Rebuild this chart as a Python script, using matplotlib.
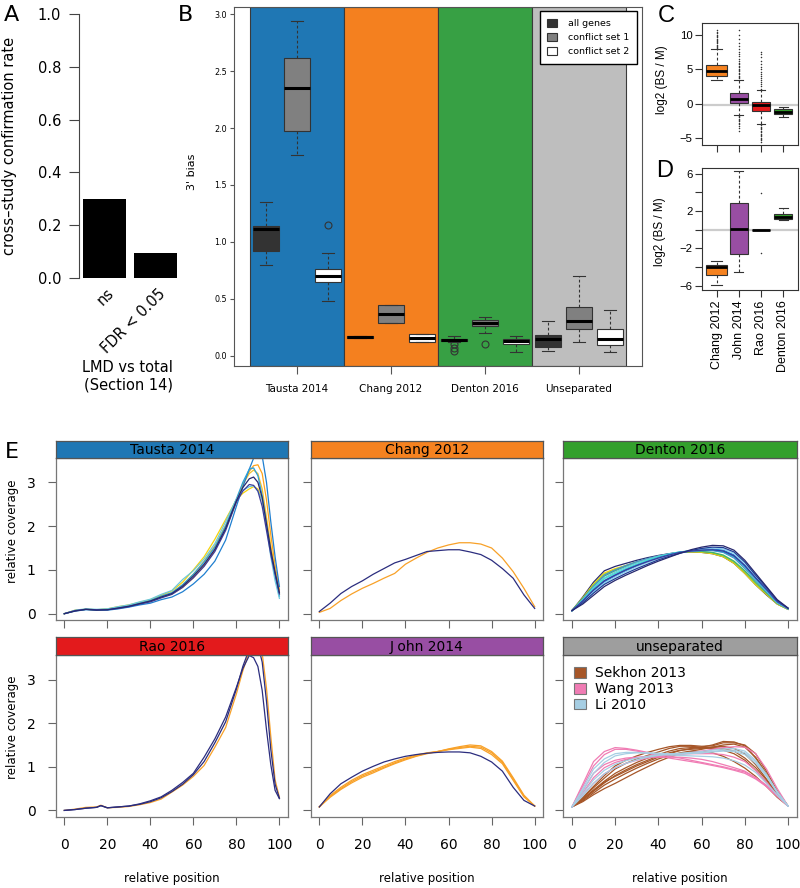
import numpy as np
import matplotlib
matplotlib.use('Agg')
import matplotlib.pyplot as plt
from matplotlib.patches import Patch

# ---------------- data ----------------
# A: cross-study confirmation rate
a_labels = ['ns', 'FDR < 0.05']
a_rates = [0.30, 0.093]

# B: 3' bias boxes, (q1, median, q3, whisker low, whisker high) per group
b_groups = ['Tausta 2014', 'Chang 2012', 'Denton 2016', 'Unseparated']
b_group_colors = ['#1f77b4', '#f4801f', '#37a044', '#bebebe']
b_all = [(0.92, 1.11, 1.14, 0.80, 1.35), (0.158, 0.165, 0.172, 0.158, 0.172),
         (0.126, 0.137, 0.146, 0.117, 0.17), (0.073, 0.146, 0.179, 0.041, 0.308)]
b_all_out = [[], [], [0.10, 0.07, 0.04], []]
b_c1 = [(1.97, 2.35, 2.62, 1.76, 2.94), (0.287, 0.363, 0.442, 0.287, 0.442),
        (0.26, 0.29, 0.313, 0.202, 0.343), (0.231, 0.305, 0.425, 0.123, 0.703)]
b_c1_out = [[], [], [0.105], []]
b_c2 = [(0.643, 0.696, 0.76, 0.48, 0.904), (0.117, 0.152, 0.187, 0.117, 0.187),
        (0.10, 0.126, 0.146, 0.035, 0.176), (0.094, 0.146, 0.231, 0.032, 0.404)]
b_c2_out = [[1.15], [], [], []]
b_sets = ['all genes', 'conflict set 1', 'conflict set 2']
b_set_colors = ['#333333', '#808080', 'white']

# C / D: log2 (BS / M)
cd_studies = ['Chang 2012', 'John 2014', 'Rao 2016', 'Denton 2016']
cd_colors = ['#f58220', '#984ea3', '#e41a1c', '#33a02c']
c_stats = [(4.1, 4.83, 5.62, 3.47, 7.96), (0.15, 0.73, 1.61, -1.65, 3.47),
           (-1.02, -0.24, 0.29, -2.97, 2.0), (-1.46, -1.22, -0.78, -1.95, -0.44)]
c_out = [[8.1, 8.3, 8.5, 8.6, 8.8, 9.0, 9.2, 9.3, 9.5, 9.7, 9.9, 10.1, 10.3, 10.5, 10.8],
         [3.7, 3.9, 4.1, 4.3, 4.5, 4.7, 4.9, 5.1, 5.3, 5.5, 5.8, 6.0, 6.3, 6.6, 6.9, 7.2, 7.6,
          8.0, 8.4, 8.9, 9.4, 10.0, 10.8,
          -1.8, -2.0, -2.2, -2.4, -2.6, -2.8, -3.0, -3.3, -3.6, -4.0],
         [2.2, 2.5, 2.8, 3.1, 3.4, 3.7, 4.0, 4.3, 4.6, 5.0, 5.4, 5.8, 6.3, 6.8, 7.3, 7.6,
          -3.2, -3.4, -3.6, -3.8, -4.0, -4.2, -4.4, -4.6, -4.8, -5.0, -5.2, -5.4, -5.6],
         []]
c_ref = -0.25
d_stats = [(-4.89, -4.03, -3.78, -5.93, -3.36), (-2.57, 0.05, 2.83, -4.53, 6.26),
           (0.0, 0.0, 0.0, 0.0, 0.0), (1.11, 1.39, 1.68, 1.0, 2.36)]
d_out = [[], [], [3.97, -2.53], []]
d_ref = 0.0

# E: relative coverage curves
tx = [0, 5, 10, 15, 20, 25, 30, 35, 40, 45, 50, 55, 60, 65, 70, 75, 80, 83, 86, 88, 90, 92, 94, 96, 98, 100]
tausta_curves = [
    ('#f5d20a', [0.0, 0.08, 0.1, 0.09, 0.11, 0.16, 0.2, 0.26, 0.32, 0.42, 0.52, 0.72, 1.0, 1.3, 1.7, 2.15, 2.6, 2.75, 2.85, 2.9, 2.85, 2.6, 2.1, 1.5, 0.95, 0.45]),
    ('#ffa31a', [0.0, 0.07, 0.1, 0.09, 0.09, 0.13, 0.17, 0.22, 0.28, 0.37, 0.45, 0.6, 0.82, 1.1, 1.45, 1.93, 2.55, 2.95, 3.25, 3.38, 3.4, 3.2, 2.6, 1.8, 1.1, 0.55]),
    ('#f2c12e', [0.0, 0.07, 0.1, 0.09, 0.1, 0.14, 0.18, 0.24, 0.3, 0.4, 0.48, 0.66, 0.9, 1.2, 1.55, 2.02, 2.6, 2.95, 3.2, 3.28, 3.2, 2.85, 2.2, 1.55, 1.0, 0.5]),
    ('#1f7fd0', [0.0, 0.06, 0.09, 0.08, 0.08, 0.11, 0.15, 0.2, 0.24, 0.32, 0.38, 0.5, 0.68, 0.9, 1.2, 1.68, 2.45, 2.9, 3.3, 3.55, 3.7, 3.6, 3.0, 2.1, 1.3, 0.62]),
    ('#2aa0d8', [0.0, 0.07, 0.1, 0.09, 0.1, 0.14, 0.18, 0.24, 0.3, 0.4, 0.48, 0.66, 0.9, 1.18, 1.52, 2.0, 2.62, 3.0, 3.3, 3.33, 3.15, 2.7, 2.05, 1.4, 0.85, 0.4]),
    ('#6cc8dc', [0.0, 0.08, 0.11, 0.1, 0.11, 0.16, 0.2, 0.27, 0.33, 0.44, 0.53, 0.78, 0.98, 1.25, 1.6, 2.1, 2.62, 2.82, 2.9, 2.92, 2.8, 2.6, 2.0, 1.3, 0.75, 0.35]),
    ('#3b3b9c', [0.0, 0.07, 0.1, 0.09, 0.09, 0.12, 0.16, 0.22, 0.27, 0.36, 0.44, 0.6, 0.82, 1.08, 1.42, 1.9, 2.55, 2.8, 2.95, 2.93, 2.8, 2.45, 1.9, 1.35, 0.9, 0.45]),
    ('#26286e', [0.0, 0.06, 0.1, 0.08, 0.09, 0.13, 0.17, 0.23, 0.29, 0.38, 0.46, 0.63, 0.86, 1.13, 1.47, 1.95, 2.58, 2.88, 3.08, 3.12, 3.0, 2.65, 2.05, 1.45, 0.95, 0.48]),
]

rx = [0, 5, 10, 15, 17, 20, 25, 30, 35, 40, 45, 50, 55, 60, 65, 70, 75, 80, 83, 86, 88, 90, 92, 94, 96, 98, 100]
rao_curves = [
    ('#f8a128', [0.0, 0.03, 0.07, 0.08, 0.12, 0.06, 0.07, 0.09, 0.13, 0.18, 0.26, 0.42, 0.58, 0.78, 1.03, 1.45, 1.9, 2.67, 3.2, 3.65, 3.86, 3.85, 3.6, 2.8, 1.7, 0.7, 0.3]),
    ('#2b2d7e', [0.0, 0.02, 0.05, 0.07, 0.11, 0.06, 0.08, 0.1, 0.14, 0.2, 0.29, 0.43, 0.6, 0.82, 1.12, 1.55, 2.03, 2.78, 3.3, 3.7, 3.85, 3.8, 3.4, 2.5, 1.4, 0.6, 0.28]),
    ('#2b2d7e', [0.0, 0.02, 0.05, 0.07, 0.11, 0.06, 0.08, 0.1, 0.15, 0.22, 0.31, 0.46, 0.64, 0.85, 1.22, 1.64, 2.14, 2.82, 3.25, 3.55, 3.5, 3.3, 2.75, 1.85, 1.05, 0.46, 0.27]),
]

fx = [0, 5, 10, 15, 20, 25, 30, 35, 40, 45, 50, 55, 60, 65, 70, 75, 80, 85, 90, 95, 100]
chang_curves = [
    ('#f8a128', [0.03, 0.12, 0.3, 0.45, 0.58, 0.69, 0.81, 0.92, 1.13, 1.27, 1.4, 1.5, 1.57, 1.62, 1.62, 1.59, 1.5, 1.27, 0.96, 0.58, 0.16]),
    ('#2b2d7e', [0.05, 0.24, 0.46, 0.62, 0.75, 0.9, 1.03, 1.16, 1.24, 1.33, 1.42, 1.44, 1.46, 1.46, 1.41, 1.35, 1.22, 1.03, 0.81, 0.43, 0.12]),
]
john_curves = [
    ('#f8a128', [0.08, 0.34, 0.53, 0.69, 0.82, 0.92, 1.02, 1.12, 1.2, 1.27, 1.32, 1.35, 1.39, 1.42, 1.45, 1.42, 1.28, 1.07, 0.69, 0.31, 0.1]),
    ('#f8a128', [0.08, 0.32, 0.5, 0.66, 0.79, 0.89, 0.99, 1.09, 1.18, 1.25, 1.31, 1.35, 1.4, 1.44, 1.47, 1.45, 1.32, 1.1, 0.72, 0.33, 0.1]),
    ('#f8a128', [0.08, 0.3, 0.48, 0.63, 0.76, 0.86, 0.97, 1.07, 1.16, 1.24, 1.3, 1.35, 1.41, 1.46, 1.5, 1.48, 1.35, 1.13, 0.75, 0.35, 0.1]),
    ('#2b2d7e', [0.08, 0.38, 0.61, 0.76, 0.9, 1.01, 1.11, 1.18, 1.24, 1.28, 1.31, 1.33, 1.34, 1.34, 1.32, 1.24, 1.11, 0.9, 0.53, 0.23, 0.1]),
]
denton_curves = [
    ('#26286e', [0.07, 0.38, 0.72, 0.98, 1.08, 1.15, 1.22, 1.28, 1.33, 1.37, 1.4, 1.41, 1.4, 1.37, 1.3, 1.15, 0.92, 0.66, 0.43, 0.22, 0.1]),
    ('#f5d20a', [0.07, 0.36, 0.68, 0.93, 1.03, 1.1, 1.18, 1.25, 1.31, 1.36, 1.4, 1.41, 1.4, 1.37, 1.3, 1.15, 0.92, 0.66, 0.44, 0.22, 0.1]),
    ('#9acd32', [0.07, 0.35, 0.66, 0.9, 1.01, 1.1, 1.18, 1.25, 1.31, 1.36, 1.4, 1.42, 1.42, 1.39, 1.32, 1.18, 0.95, 0.69, 0.46, 0.23, 0.1]),
    ('#3cb371', [0.07, 0.34, 0.62, 0.86, 0.98, 1.08, 1.17, 1.25, 1.31, 1.36, 1.4, 1.42, 1.42, 1.4, 1.34, 1.2, 0.98, 0.72, 0.48, 0.24, 0.11]),
    ('#4a90c8', [0.07, 0.33, 0.63, 0.88, 1.0, 1.1, 1.19, 1.26, 1.32, 1.37, 1.41, 1.43, 1.44, 1.44, 1.4, 1.27, 1.03, 0.76, 0.5, 0.25, 0.11]),
    ('#6cc8dc', [0.07, 0.32, 0.6, 0.82, 0.95, 1.06, 1.16, 1.24, 1.31, 1.36, 1.41, 1.43, 1.45, 1.46, 1.42, 1.3, 1.06, 0.78, 0.52, 0.25, 0.11]),
    ('#40e0d0', [0.07, 0.31, 0.58, 0.8, 0.92, 1.03, 1.13, 1.22, 1.3, 1.36, 1.41, 1.44, 1.46, 1.47, 1.44, 1.33, 1.09, 0.81, 0.54, 0.27, 0.12]),
    ('#2aa0d8', [0.07, 0.3, 0.55, 0.76, 0.89, 1.01, 1.11, 1.2, 1.28, 1.35, 1.4, 1.43, 1.45, 1.45, 1.41, 1.3, 1.07, 0.8, 0.54, 0.27, 0.12]),
    ('#1f7fd0', [0.07, 0.28, 0.52, 0.73, 0.86, 0.98, 1.09, 1.18, 1.27, 1.34, 1.4, 1.44, 1.47, 1.48, 1.45, 1.34, 1.1, 0.82, 0.55, 0.27, 0.12]),
    ('#8fd3f0', [0.07, 0.26, 0.5, 0.7, 0.84, 0.96, 1.07, 1.17, 1.26, 1.33, 1.39, 1.44, 1.48, 1.5, 1.48, 1.38, 1.15, 0.86, 0.58, 0.29, 0.12]),
    ('#1e3c96', [0.07, 0.25, 0.47, 0.67, 0.8, 0.92, 1.03, 1.13, 1.23, 1.31, 1.38, 1.44, 1.49, 1.52, 1.51, 1.41, 1.18, 0.88, 0.6, 0.3, 0.12]),
    ('#3b3b9c', [0.07, 0.29, 0.54, 0.75, 0.88, 1.0, 1.1, 1.19, 1.27, 1.34, 1.4, 1.43, 1.45, 1.46, 1.43, 1.32, 1.1, 0.82, 0.56, 0.28, 0.12]),
    ('#26286e', [0.07, 0.22, 0.42, 0.62, 0.76, 0.88, 0.99, 1.1, 1.2, 1.29, 1.38, 1.46, 1.52, 1.56, 1.55, 1.45, 1.22, 0.92, 0.62, 0.32, 0.13]),
]
unsep_names = ['Sekhon 2013', 'Wang 2013', 'Li 2010']
unsep_colors = ['#a65628', '#f07cb4', '#a6cee3']
sekhon_curves = [
    [0.08, 0.3, 0.55, 0.8, 1.02, 1.15, 1.25, 1.33, 1.4, 1.46, 1.49, 1.49, 1.47, 1.48, 1.55, 1.55, 1.5, 1.3, 0.9, 0.45, 0.1],
    [0.08, 0.22, 0.4, 0.58, 0.72, 0.85, 0.97, 1.08, 1.18, 1.26, 1.32, 1.36, 1.4, 1.45, 1.5, 1.52, 1.45, 1.22, 0.85, 0.42, 0.1],
    [0.08, 0.26, 0.47, 0.67, 0.85, 0.98, 1.1, 1.2, 1.28, 1.36, 1.42, 1.44, 1.44, 1.42, 1.38, 1.3, 1.15, 0.92, 0.65, 0.35, 0.1],
    [0.08, 0.2, 0.36, 0.5, 0.62, 0.75, 0.88, 1.0, 1.12, 1.22, 1.3, 1.35, 1.35, 1.32, 1.24, 1.12, 0.97, 0.78, 0.55, 0.3, 0.1],
    [0.08, 0.28, 0.52, 0.74, 0.95, 1.08, 1.18, 1.26, 1.34, 1.42, 1.47, 1.47, 1.45, 1.5, 1.58, 1.57, 1.48, 1.2, 0.82, 0.4, 0.1],
    [0.08, 0.24, 0.44, 0.63, 0.8, 0.93, 1.05, 1.15, 1.25, 1.32, 1.38, 1.4, 1.42, 1.45, 1.47, 1.42, 1.3, 1.05, 0.72, 0.38, 0.1],
    [0.08, 0.25, 0.45, 0.65, 0.78, 0.9, 1.02, 1.12, 1.22, 1.3, 1.37, 1.42, 1.44, 1.44, 1.42, 1.36, 1.2, 0.98, 0.7, 0.36, 0.1],
]
wang_curves = [
    [0.08, 0.6, 1.12, 1.35, 1.44, 1.42, 1.38, 1.33, 1.28, 1.24, 1.2, 1.15, 1.1, 1.05, 1.0, 0.94, 0.88, 0.75, 0.58, 0.35, 0.1],
    [0.08, 0.55, 1.02, 1.28, 1.4, 1.4, 1.36, 1.31, 1.25, 1.2, 1.16, 1.12, 1.08, 1.03, 0.98, 0.92, 0.85, 0.72, 0.55, 0.33, 0.1],
    [0.08, 0.35, 0.62, 0.84, 0.98, 1.08, 1.15, 1.2, 1.24, 1.27, 1.29, 1.32, 1.36, 1.4, 1.44, 1.46, 1.45, 1.3, 0.95, 0.5, 0.1],
    [0.08, 0.4, 0.75, 0.98, 1.1, 1.17, 1.21, 1.24, 1.26, 1.28, 1.29, 1.3, 1.3, 1.3, 1.28, 1.22, 1.12, 0.92, 0.65, 0.35, 0.1],
    [0.08, 0.45, 0.85, 1.05, 1.15, 1.2, 1.22, 1.22, 1.22, 1.22, 1.22, 1.2, 1.17, 1.12, 1.05, 0.98, 0.9, 0.75, 0.55, 0.32, 0.1],
]
li_curves = [
    [0.08, 0.45, 0.85, 1.1, 1.25, 1.3, 1.32, 1.32, 1.31, 1.3, 1.29, 1.3, 1.32, 1.35, 1.38, 1.38, 1.32, 1.12, 0.8, 0.42, 0.1],
    [0.08, 0.38, 0.7, 0.92, 1.06, 1.14, 1.2, 1.24, 1.27, 1.29, 1.3, 1.31, 1.32, 1.34, 1.36, 1.35, 1.28, 1.08, 0.78, 0.4, 0.1],
    [0.08, 0.5, 0.95, 1.18, 1.3, 1.33, 1.33, 1.31, 1.29, 1.27, 1.26, 1.25, 1.24, 1.23, 1.2, 1.14, 1.04, 0.87, 0.62, 0.35, 0.1],
    [0.08, 0.33, 0.62, 0.84, 0.98, 1.08, 1.16, 1.22, 1.26, 1.29, 1.31, 1.33, 1.35, 1.38, 1.41, 1.42, 1.36, 1.15, 0.83, 0.43, 0.1],
]

# ---------------- layout helpers (pixel coords, origin top-left) ----------------
W, H = 800, 888
fig = plt.figure(figsize=(8, 8.88), dpi=100)


def px_axes(l, t, r, b):
    return fig.add_axes([l / W, 1 - b / H, (r - l) / W, (b - t) / H])


def px_text(x, y, s, **kw):
    fig.text(x / W, 1 - y / H, s, **kw)


def stat_dicts(stats, outs):
    return [dict(q1=q1, med=med, q3=q3, whislo=lo, whishi=hi, fliers=o)
            for (q1, med, q3, lo, hi), o in zip(stats, outs)]


DV = 'DejaVu Sans'
LS = 'Liberation Sans'

# ---------------- A ----------------
axA = px_axes(79.3, 14, 180.7, 278)
a_pos = [0.7, 1.9]
axA.bar(a_pos, a_rates, width=1.0, color='black')
axA.set_xlim(0.112, 2.488)
axA.set_ylim(0, 1)
for s in ['top', 'right', 'bottom']:
    axA.spines[s].set_visible(False)
axA.spines['left'].set_bounds(0, 1)
axA.spines['left'].set_color('#444444')
axA.set_xticks([])
a_ticks = np.arange(0, 1.01, 0.2)
axA.set_yticks(a_ticks)
axA.set_yticklabels([f'{v:.1f}' for v in a_ticks], family=DV)
axA.tick_params(axis='y', length=7, width=0.8, labelsize=10.5, pad=6, color='#444444')
for x, lab in zip(a_pos, a_labels):
    axA.text(x + 0.17, -0.05, lab, transform=axA.get_xaxis_transform(), rotation=45,
             ha='right', va='center', rotation_mode='anchor', fontsize=10.5, family=DV)
px_text(10, 146, 'cross\u2013study confirmation rate', rotation=90, ha='center', va='center',
        fontsize=10.5, family=DV)
px_text(127, 368, 'LMD vs total', ha='center', va='center', fontsize=10.5, family=DV)
px_text(128, 385, '(Section 14)', ha='center', va='center', fontsize=10.5, family=DV)
px_text(11, 15, 'A', ha='center', va='center', fontsize=16, family=DV)

# ---------------- B ----------------
axB = px_axes(234, 7, 642, 366)
for i, c in enumerate(b_group_colors):
    axB.axvspan(i + 0.5, i + 1.5, facecolor=c, edgecolor='#3a3a3a', linewidth=0.8, zorder=0)
b_pos = np.arange(1, len(b_groups) + 1)
for off, stats, outs, fc in zip([-0.33, 0.0, 0.33], [b_all, b_c1, b_c2],
                                [b_all_out, b_c1_out, b_c2_out], b_set_colors):
    axB.bxp(stat_dicts(stats, outs), positions=b_pos + off, widths=0.27, patch_artist=True,
            manage_ticks=False, zorder=3,
            boxprops=dict(facecolor=fc, edgecolor='#333333', linewidth=0.8),
            whiskerprops=dict(color='#333333', linewidth=0.8, linestyle=(0, (2.5, 2))),
            capprops=dict(color='#333333', linewidth=0.8),
            medianprops=dict(color='black', linewidth=2.2),
            flierprops=dict(marker='o', markerfacecolor='none', markeredgecolor='#333333',
                            markersize=5, markeredgewidth=0.8))
axB.set_xlim(0.33, 4.67)
axB.set_ylim(-0.091, 3.064)
axB.set_xticks(b_pos)
axB.set_xticklabels(b_groups, family=DV)
b_ticks = np.arange(0, 3.01, 0.5)
axB.set_yticks(b_ticks)
axB.set_yticklabels([f'{v:.1f}' for v in b_ticks], family=DV)
axB.tick_params(axis='x', length=6, width=0.8, labelsize=7.5, pad=7, color='#555555')
axB.tick_params(axis='y', length=3, width=0.8, labelsize=5.8, pad=2, color='#555555')
for s in axB.spines.values():
    s.set_color('#555555')
    s.set_linewidth(0.8)
b_handles = [Patch(facecolor=c, edgecolor='#333333', linewidth=0.8) for c in b_set_colors]
axB.legend(b_handles, b_sets, loc='upper right', bbox_to_anchor=(637 / W, 1 - 11 / H),
           bbox_transform=fig.transFigure, borderaxespad=0, fancybox=False, framealpha=1,
           edgecolor='black', prop=dict(family=DV, size=6.8), handlelength=1.0,
           handleheight=1.0, handletextpad=1.2, borderpad=0.8, labelspacing=0.5)
px_text(192, 172, "3' bias", rotation=90, ha='center', va='center', fontsize=8, family=DV)
px_text(186, 15, 'B', ha='center', va='center', fontsize=16, family=DV)


# ---------------- C / D ----------------
def cd_panel(ax, stats, outs, ref, widths):
    ax.axhline(ref, color='#cccccc', linewidth=1.6, zorder=1)
    bp = ax.bxp(stat_dicts(stats, outs), positions=[1, 2, 3, 4], widths=widths,
                patch_artist=True, manage_ticks=False, zorder=3,
                boxprops=dict(edgecolor='#333333', linewidth=0.8),
                whiskerprops=dict(color='#333333', linewidth=0.8, linestyle=(0, (2.5, 2))),
                capprops=dict(color='#333333', linewidth=0.8),
                medianprops=dict(color='black', linewidth=2.0),
                flierprops=dict(marker='o', markersize=1.1, markerfacecolor='#333333',
                                markeredgecolor='none', linestyle='none'))
    for patch, c in zip(bp['boxes'], cd_colors):
        patch.set_facecolor(c)
    ax.set_xlim(0.33, 4.67)
    ax.set_xticks([1, 2, 3, 4])
    ax.tick_params(length=5, width=0.8, labelsize=8.2, pad=1.5, color='#333333')
    for s in ax.spines.values():
        s.set_color('#333333')
        s.set_linewidth(0.8)


cd_widths = [0.95, 0.8, 0.8, 0.83]
axC = px_axes(701.7, 23.3, 798, 145.3)
cd_panel(axC, c_stats, c_out, c_ref, cd_widths)
axC.set_ylim(-6.12, 11.76)
axC.set_yticks([-5, 0, 5, 10])
axC.set_yticklabels(['\u22125', '0', '5', '10'], family=LS)
axC.set_xticklabels([])
px_text(662, 80, 'log2 (BS / M)', rotation=90, ha='center', va='center', fontsize=8.5, family=LS)
px_text(666, 16, 'C', ha='center', va='center', fontsize=17, family=LS)

axD = px_axes(701.7, 167.7, 798, 290)
cd_panel(axD, d_stats, d_out, d_ref, cd_widths)
axD.set_ylim(-6.46, 6.64)
axD.set_yticks([-6, -4, -2, 0, 2, 4, 6])
axD.set_yticklabels(['\u22126', '', '\u22122', '', '2', '', '6'], family=LS)
axD.set_xticklabels(cd_studies, rotation=90, family=LS, fontsize=9)
axD.tick_params(axis='x', pad=2.5)
px_text(660, 232, 'log2 (BS / M)', rotation=90, ha='center', va='center', fontsize=8.5, family=LS)
px_text(665, 171, 'D', ha='center', va='center', fontsize=17, family=LS)

# ---------------- E ----------------
e_cols = [(55.7, 288), (310.7, 543.3), (563.3, 796.7)]
e_rows = [(441, 458, 620), (637.3, 655.3, 816.7)]
e_panels = [
    ('Tausta 2014', '#1f77b4', tx, tausta_curves),
    ('Chang 2012', '#f58220', fx, chang_curves),
    ('Denton 2016', '#33a02c', fx, denton_curves),
    ('Rao 2016', '#e31a1c', rx, rao_curves),
    ('J ohn 2014', '#984ea3', fx, john_curves),
    ('unseparated', '#9e9e9e', fx, None),
]
for k, (title, scol, xs, curves) in enumerate(e_panels):
    r, c = divmod(k, 3)
    l, rr = e_cols[c]
    st, pt, pb = e_rows[r]
    ax = px_axes(l, pt, rr, pb)
    if curves is None:
        for ys in sekhon_curves:
            ax.plot(xs, ys, color=unsep_colors[0], linewidth=0.9)
        for ys in wang_curves:
            ax.plot(xs, ys, color=unsep_colors[1], linewidth=0.9)
        for ys in li_curves:
            ax.plot(xs, ys, color=unsep_colors[2], linewidth=0.9)
        hnd = [Patch(facecolor=cc, edgecolor='#777777', linewidth=0.8) for cc in unsep_colors]
        ax.legend(hnd, unsep_names, loc='upper left', frameon=False,
                  prop=dict(family=DV, size=10), handlelength=0.8, handleheight=0.8,
                  handletextpad=0.7, labelspacing=0.12, borderaxespad=0.4,
                  bbox_to_anchor=(0.0, 1.0))
    else:
        for col, ys in curves:
            ax.plot(xs, ys, color=col, linewidth=0.9)
    ax.set_xlim(-4, 104)
    ax.set_ylim(-0.144, 3.555)
    ax.set_xticks(np.arange(0, 101, 20))
    ax.set_yticks([0, 1, 2, 3])
    ax.tick_params(length=6, width=0.8, color='#666666', labelsize=10)
    ax.tick_params(axis='y', pad=8.5)
    ax.tick_params(axis='x', pad=9)
    if c != 0:
        ax.set_yticklabels([])
    else:
        ax.set_yticklabels(['0', '1', '2', '3'], family=DV)
    if r == 0:
        ax.set_xticklabels([])
    else:
        ax.set_xticklabels([str(v) for v in range(0, 101, 20)], family=DV)
        px_text((l + rr) / 2, 878, 'relative position', ha='center', va='center',
                fontsize=8.5, family=DV)
    for s in ax.spines.values():
        s.set_color('#777777')
        s.set_linewidth(0.9)
    sax = px_axes(l, st, rr, pt)
    sax.set_facecolor(scol)
    sax.set_xticks([])
    sax.set_yticks([])
    for s in sax.spines.values():
        s.set_color('#555555')
        s.set_linewidth(0.9)
    sax.text(0.5, 0.45, title, transform=sax.transAxes, ha='center', va='center',
             fontsize=10, family=DV)

px_text(13, 531, 'relative coverage', rotation=90, ha='center', va='center', fontsize=8.5, family=DV)
px_text(13, 727, 'relative coverage', rotation=90, ha='center', va='center', fontsize=8.5, family=DV)
px_text(12, 452, 'E', ha='center', va='center', fontsize=16, family=DV)

fig.savefig('out.png', dpi=100)
